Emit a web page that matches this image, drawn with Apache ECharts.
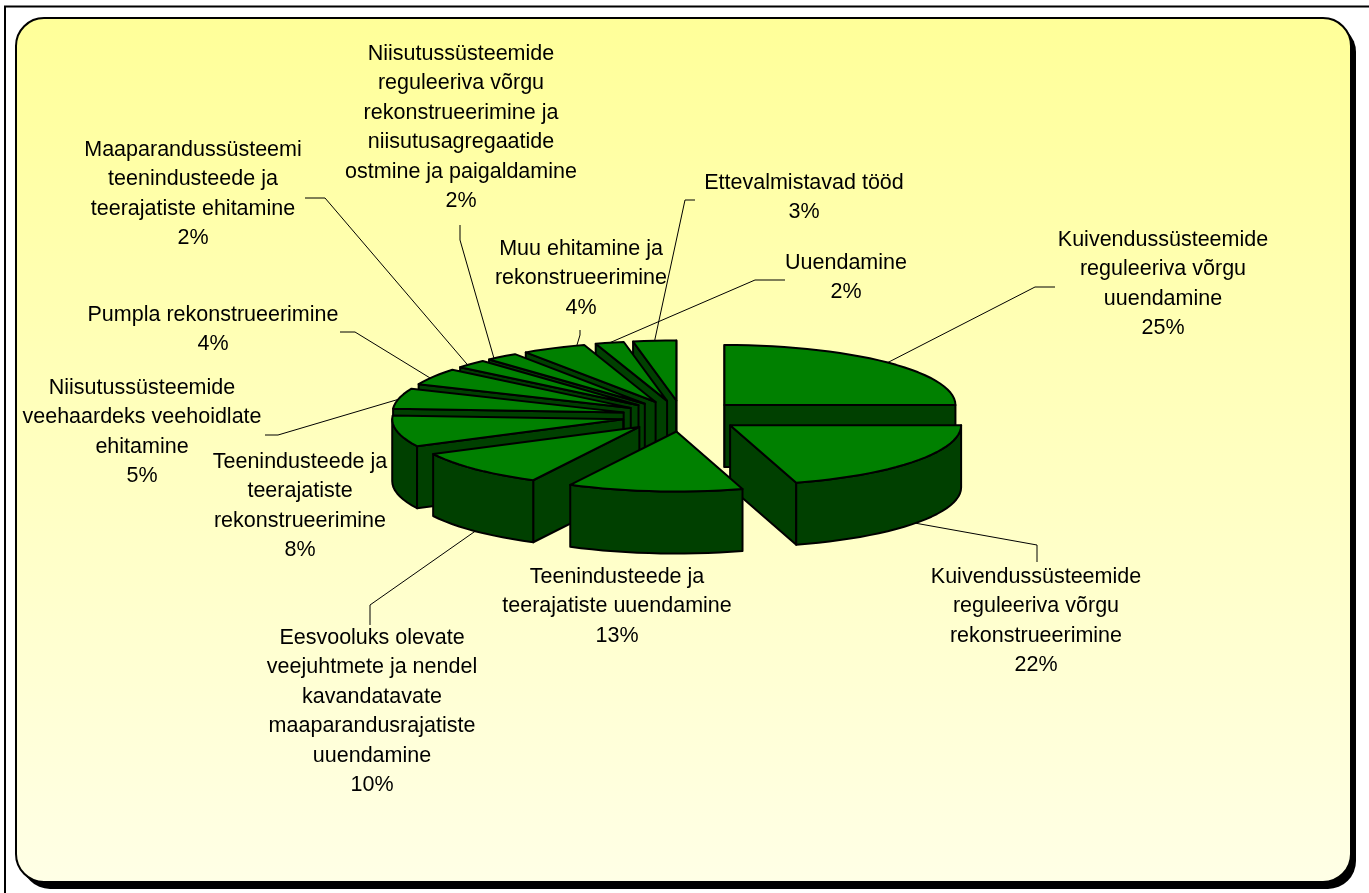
<!DOCTYPE html>
<html>
<head>
<meta charset="utf-8">
<style>
  html, body { margin: 0; padding: 0; background: #fff; }
  #chart { width: 1369px; height: 893px; }
</style>
<script src="https://cdn.jsdelivr.net/npm/echarts@6/dist/echarts.min.js"></script>
</head>
<body>
<div id="chart"></div>
<script>
// data, clockwise from 12 o'clock
const categories = [
  "Kuivendussüsteemide\nreguleeriva võrgu\nuuendamine",
  "Kuivendussüsteemide\nreguleeriva võrgu\nrekonstrueerimine",
  "Teenindusteede ja\nteerajatiste uuendamine",
  "Eesvooluks olevate\nveejuhtmete ja nendel\nkavandatavate\nmaaparandusrajatiste\nuuendamine",
  "Teenindusteede ja\nteerajatiste\nrekonstrueerimine",
  "Niisutussüsteemide\nveehaardeks veehoidlate\nehitamine",
  "Pumpla rekonstrueerimine",
  "Maaparandussüsteemi\nteenindusteede ja\nteerajatiste ehitamine",
  "Niisutussüsteemide\nreguleeriva võrgu\nrekonstrueerimine ja\nniisutusagregaatide\nostmine ja paigaldamine",
  "Muu ehitamine ja\nrekonstrueerimine",
  "Uuendamine",
  "Ettevalmistavad tööd",
];
const percents = [25, 22, 13, 10, 8, 5, 4, 2, 2, 4, 2, 3];

// label layout: centre x, y of the first line's middle
const labelPos = [
  [1163, 240], [1036, 577], [617, 577], [372, 638], [300, 462], [142, 388],
  [213, 315], [193, 150], [461, 54], [581, 249], [846, 263], [804, 183],
];
// leader layout: start, elbow, where along the slice arc it ends
const leaders = [
  [[1055, 287], [1035, 287], 0.5],
  [[1037, 562], [1037, 545], 0.5],
  null,
  [[370, 625], [370, 605], 0.5],
  null,
  [[265, 435], [278, 435], 0.45],
  [[340, 332], [355, 332], 0.4],
  [[305, 198], [325, 198], 0.35],
  [[460, 225], [460, 240], 0.2],
  [[580, 330], [580, 335], 0.88],
  [[785, 280], [755, 280], 0.5],
  [[695, 200], [685, 200], 0.5],
];

// pie geometry
const cx = 682, cy = 416;
const rx = 231, ry = 60, depth = 62;
const explode = 60;
const total = percents.reduce((a, b) => a + b, 0);
const rad = (d) => (d * Math.PI) / 180;

// the original's 3d view squeezes the lower left part of the circle a bit
const view = (t) => {
  if (t <= 90 || t >= 340) return t;
  return t - 9 * Math.sin(Math.pow((t - 90) / 250, 1.3) * Math.PI);
};

const onEllipse = (c, t) => [c[0] + rx * Math.sin(rad(t)), c[1] - ry * Math.cos(rad(t))];
const down = (p) => [p[0], p[1] + depth];

// slice angles and exploded centres, all from percents
let sum = 0;
const slices = percents.map((v) => {
  const a = view((sum / total) * 360);
  sum += v;
  const b = view((sum / total) * 360);
  const mid = (a + b) / 2;
  const apex = [
    cx + explode * Math.sin(rad(mid)),
    cy - explode * (ry / rx) * Math.cos(rad(mid)),
  ];
  return { a, b, mid, apex };
});

// back slices first
const drawOrder = slices
  .map((s, i) => i)
  .sort((i, j) => Math.cos(rad(slices[j].mid)) - Math.cos(rad(slices[i].mid)));

const topColor = "#008000";
const wallColor = "#004000";
const edge = { stroke: "#000", lineWidth: 2, lineJoin: "round" };

const poly = (points, fill) => ({
  type: "polygon",
  shape: { points },
  style: Object.assign({ fill }, edge),
});

const arcPoints = (c, a, b) => {
  const n = Math.max(2, Math.ceil((b - a) / 3));
  const pts = [];
  for (let i = 0; i <= n; i++) pts.push(onEllipse(c, a + ((b - a) * i) / n));
  return pts;
};

const renderSlice = (params, api) => {
  const s = slices[api.value(0)];
  const children = [];
  const first = onEllipse(s.apex, s.a);
  const last = onEllipse(s.apex, s.b);
  // radial walls that face the viewer
  if (Math.sin(rad(s.a)) <= 0.001) {
    children.push(poly([s.apex, first, down(first), down(s.apex)], wallColor));
  }
  if (Math.sin(rad(s.b)) >= -0.001) {
    children.push(poly([s.apex, last, down(last), down(s.apex)], wallColor));
  }
  // outer wall, only the front part of the rim
  const from = Math.max(s.a, 90), to = Math.min(s.b, 270);
  if (to > from) {
    const rim = arcPoints(s.apex, from, to);
    children.push(poly(rim.concat(rim.map(down).reverse()), wallColor));
  }
  children.push(poly([s.apex].concat(arcPoints(s.apex, s.a, s.b)), topColor));
  return { type: "group", children };
};

const renderLeader = (params, api) => {
  const i = api.value(0);
  const l = leaders[i];
  if (!l) return null;
  const s = slices[i];
  const t = s.a + (s.b - s.a) * l[2];
  let end = onEllipse(s.apex, t);
  if (Math.cos(rad(t)) < 0) end = down(end);
  return {
    type: "polyline",
    shape: { points: [l[0], l[1], end] },
    style: { fill: "none", stroke: "#000", lineWidth: 1 },
  };
};

const lineH = 29.4;
const renderLabel = (params, api) => {
  const i = api.value(0);
  return {
    type: "text",
    style: {
      text: categories[i] + "\n" + percents[i] + "%",
      x: labelPos[i][0],
      y: labelPos[i][1] - lineH / 2,
      textAlign: "center",
      textVerticalAlign: "top",
      font: "21.5px 'Liberation Sans', Arial, sans-serif",
      lineHeight: lineH,
      fill: "#000",
    },
  };
};

const myChart = echarts.init(document.getElementById("chart"));
myChart.setOption({
  animation: false,
  backgroundColor: "#fff",
  tooltip: { show: false },
  graphic: {
    elements: [
      // outer frame, only left and top show
      { type: "polyline", z: -10, shape: { points: [[5, 893], [5, 6.5], [1369, 6.5]] },
        style: { fill: "none", stroke: "#000", lineWidth: 2 } },
      // shadow
      { type: "rect", z: -9, shape: { x: 22, y: 24, width: 1334, height: 865, r: 28 },
        style: { fill: "#000" } },
      // panel
      { type: "rect", z: -8, shape: { x: 16, y: 18, width: 1335, height: 864, r: 28 },
        style: {
          stroke: "#000",
          lineWidth: 2,
          fill: {
            type: "linear", x: 0, y: 0, x2: 0, y2: 1,
            colorStops: [
              { offset: 0, color: "#ffff99" },
              { offset: 1, color: "#ffffe6" },
            ],
          },
        } },
    ],
  },
  series: [
    { type: "custom", coordinateSystem: "none", z: 2, silent: true,
      data: categories.map((c, i) => [i]), renderItem: renderLeader },
    { type: "custom", coordinateSystem: "none", z: 3, silent: true,
      data: drawOrder.map((i) => [i]), renderItem: renderSlice },
    { type: "custom", coordinateSystem: "none", z: 4, silent: true,
      data: categories.map((c, i) => [i]), renderItem: renderLabel },
  ],
});
</script>
</body>
</html>
